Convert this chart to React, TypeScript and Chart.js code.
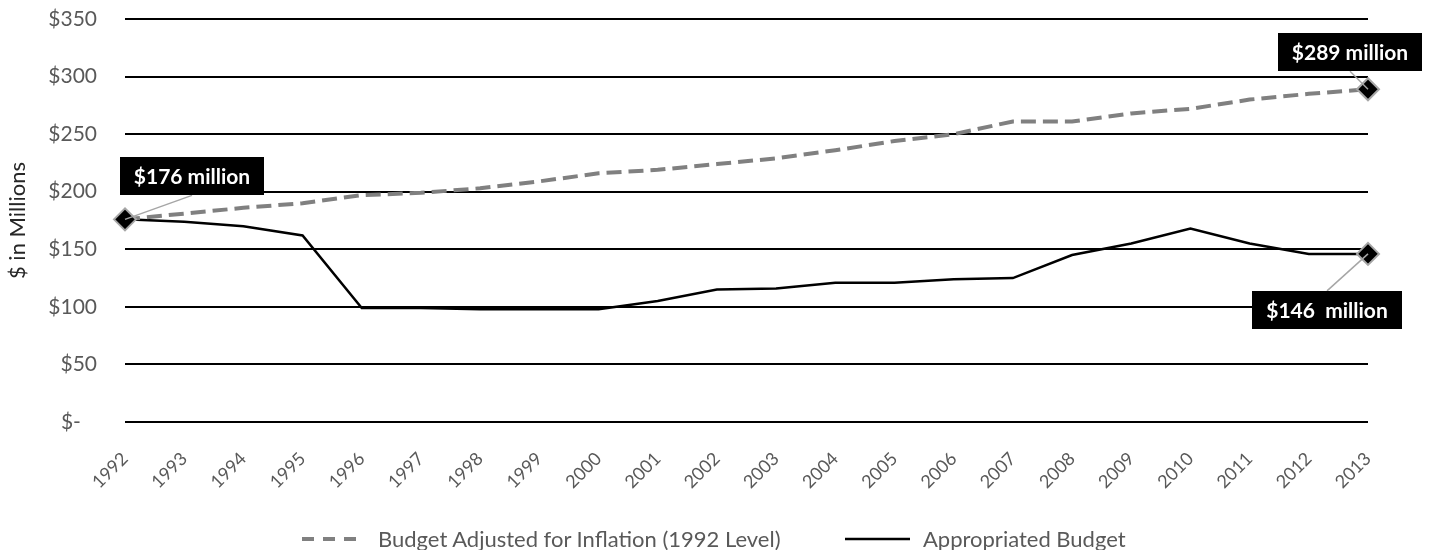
import React, { useEffect, useRef } from "react";
import { Chart, registerables } from "chart.js";

Chart.register(...registerables);

// ---------- data ----------
const years = [
  "1992", "1993", "1994", "1995", "1996", "1997", "1998", "1999", "2000", "2001", "2002",
  "2003", "2004", "2005", "2006", "2007", "2008", "2009", "2010", "2011", "2012", "2013",
];
const inflationAdjustedBudget = [
  176, 181, 186, 190, 197, 199, 203, 209, 216, 219, 224,
  229, 236, 244, 250, 261, 261, 268, 272, 280, 285, 289,
];
const appropriatedBudget = [
  176, 174, 170, 162, 99, 99, 98, 98, 98, 105, 115,
  116, 121, 121, 124, 125, 145, 155, 168, 155, 146, 146,
];
const yTickValues = [0, 50, 100, 150, 200, 250, 300, 350];
const seriesLabels = ["Budget Adjusted for Inflation (1992 Level)", "Appropriated Budget"];
const yAxisTitle = "$ in Millions";
const calloutTexts = ["$176 million", "$289 million", "$146  million"];

// ---------- layout / style config ----------
const W = 1431;
const H = 550;
const FONT = "Lato, 'Open Sans', sans-serif";
const TICK_COLOR = "#595959";

// which dataset/point each callout refers to, and where its box sits relative to the point
const calloutPlacement = [
  { dataset: 0, index: 0, dx: 67, dy: -43 },
  { dataset: 0, index: 21, dx: -18, dy: -37 },
  { dataset: 1, index: 21, dx: -41, dy: 56 },
];
const markedPoints: Record<number, number[]> = { 0: [0, 21], 1: [21] };

const calloutPlugin = {
  id: "callouts",
  afterDatasetsDraw(chart: any) {
    const ctx = chart.ctx as CanvasRenderingContext2D;
    ctx.save();
    ctx.font = `bold 21px ${FONT}`;
    calloutPlacement.forEach((c, i) => {
      const el = chart.getDatasetMeta(c.dataset).data[c.index];
      if (!el) return;
      const px = el.x;
      const py = el.y;
      const text = calloutTexts[i];
      const tw = ctx.measureText(text).width;
      const bw = tw + 28;
      const bh = 38;
      const cx = px + c.dx;
      const cy = py + c.dy;
      const ay = c.dy < 0 ? cy + bh / 2 : cy - bh / 2;
      // connector
      ctx.beginPath();
      ctx.strokeStyle = "#a6a6a6";
      ctx.lineWidth = 1.5;
      ctx.setLineDash([]);
      ctx.moveTo(px, py);
      ctx.lineTo(cx, ay);
      ctx.stroke();
      // box
      ctx.fillStyle = "#000000";
      ctx.fillRect(Math.round(cx - bw / 2), Math.round(cy - bh / 2), Math.round(bw), bh);
      // text
      ctx.fillStyle = "#ffffff";
      ctx.textAlign = "center";
      ctx.textBaseline = "middle";
      ctx.fillText(text, cx, cy + 1);
    });
    ctx.restore();
  },
};

export default function App() {
  const canvasRef = useRef<HTMLCanvasElement | null>(null);

  useEffect(() => {
    if (!canvasRef.current) return;
    const markerRadius = (dsIndex: number) => (ctx: any) =>
      (markedPoints[dsIndex] || []).includes(ctx.dataIndex) ? 11 : 0;

    const chart = new Chart(canvasRef.current, {
      type: "line",
      data: {
        labels: years,
        datasets: [
          {
            label: seriesLabels[0],
            data: inflationAdjustedBudget,
            borderColor: "#808080",
            borderWidth: 4,
            borderDash: [15, 7],
            borderCapStyle: "butt",
            tension: 0,
            pointStyle: "rectRot",
            pointRadius: markerRadius(0),
            pointHoverRadius: markerRadius(0),
            pointBackgroundColor: "#000000",
            pointBorderColor: "#a6a6a6",
            pointBorderWidth: 2,
            order: 1,
          },
          {
            label: seriesLabels[1],
            data: appropriatedBudget,
            borderColor: "#000000",
            borderWidth: 2.5,
            tension: 0,
            pointStyle: "rectRot",
            pointRadius: markerRadius(1),
            pointHoverRadius: markerRadius(1),
            pointBackgroundColor: "#000000",
            pointBorderColor: "#a6a6a6",
            pointBorderWidth: 2,
            order: 2,
          },
        ],
      },
      options: {
        responsive: false,
        animation: false,
        devicePixelRatio: 1,
        layout: { autoPadding: false, padding: { top: 19, right: 63, bottom: 28, left: 0 } },
        plugins: {
          legend: { display: false },
          tooltip: { enabled: false },
        },
        scales: {
          x: {
            offset: false,
            grid: { display: false },
            border: { display: false },
            ticks: {
              autoSkip: false,
              maxRotation: 45,
              minRotation: 45,
              padding: 18,
              color: TICK_COLOR,
              font: { family: FONT, size: 18 },
            },
            afterFit: (s: any) => {
              s.height = 100;
              s.paddingLeft = 0;
              s.paddingRight = 0;
            },
          },
          y: {
            min: 0,
            max: 350,
            border: { display: false },
            grid: { color: "#000000", lineWidth: 2, drawTicks: false },
            afterBuildTicks: (s: any) => {
              s.ticks = yTickValues.map((v) => ({ value: v }));
            },
            ticks: {
              padding: 28,
              color: TICK_COLOR,
              font: { family: FONT, size: 21 },
              callback: (v: any) => (Number(v) === 0 ? "$-   " : "$" + v),
            },
            title: {
              display: true,
              text: yAxisTitle,
              color: "#262626",
              font: { family: FONT, size: 22 },
              padding: { top: 5, bottom: 0 },
            },
            afterFit: (s: any) => {
              s.width = 125;
              s.paddingTop = 0;
              s.paddingBottom = 0;
            },
          },
        },
      },
      plugins: [calloutPlugin],
    });
    return () => chart.destroy();
  }, []);

  return (
    <div style={{ position: "absolute", left: 0, top: 0, width: W, height: H, background: "#ffffff", overflow: "hidden" }}>
      <canvas ref={canvasRef} width={W} height={H} style={{ display: "block", width: W, height: H }} />
      <div
        style={{
          position: "absolute",
          left: 0,
          top: 526,
          width: W,
          height: 26,
          fontFamily: FONT,
          fontSize: 22,
          lineHeight: "26px",
          color: TICK_COLOR,
          whiteSpace: "pre",
        }}
      >
        <svg width={54} height={10} style={{ position: "absolute", left: 302, top: 8 }}>
          <line x1={0} y1={5} x2={54} y2={5} stroke="#808080" strokeWidth={4} strokeDasharray="12 9" />
        </svg>
        <span style={{ position: "absolute", left: 378, top: 0 }}>{seriesLabels[0]}</span>
        <svg width={65} height={10} style={{ position: "absolute", left: 845, top: 8 }}>
          <line x1={0} y1={5} x2={65} y2={5} stroke="#000000" strokeWidth={2.5} />
        </svg>
        <span style={{ position: "absolute", left: 923, top: 0 }}>{seriesLabels[1]}</span>
      </div>
    </div>
  );
}
